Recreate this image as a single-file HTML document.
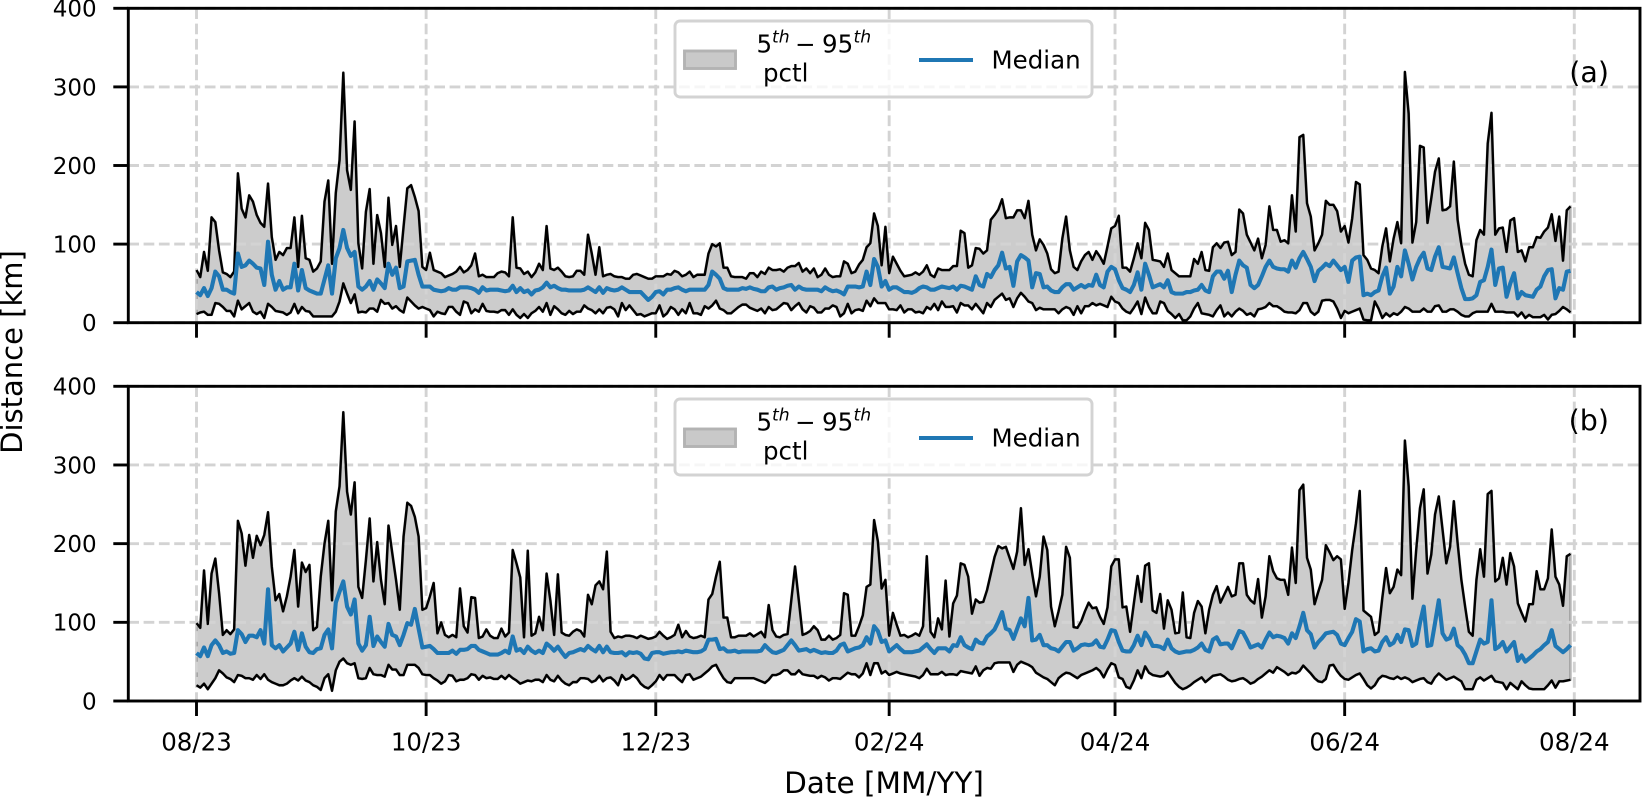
<!DOCTYPE html>
<html lang="en">
<head>
<meta charset="utf-8">
<title>Distance percentiles over time</title>
<style>
  html,body{margin:0;padding:0;background:#fff;}
  body{width:1642px;height:797px;overflow:hidden;}
  svg{display:block;}
  text{font-family:"DejaVu Sans","Liberation Sans",sans-serif;fill:#000;}
</style>
</head>
<body>
<svg id="chart" xmlns="http://www.w3.org/2000/svg" width="1642" height="797" viewBox="0 0 1642 797">
  <text transform="translate(22,352) rotate(-90)" text-anchor="middle" font-size="29">Distance [km]</text>
  <text x="884" y="793" text-anchor="middle" font-size="29.5">Date [MM/YY]</text>
</svg>
<script>
const tickDays = [0, 61, 122, 184, 244, 305, 366];
const tickLabels = ['08/23', '10/23', '12/23', '02/24', '04/24', '06/24', '08/24'];
const yTicks = [0, 100, 200, 300, 400];

const upperA = [
67,58,90,66,134,128,92,64,62,58, 65,190,145,134,162,154,137,127,122,177,
109,80,90,86,95,95,134,71,136,82, 80,65,69,78,154,181,75,165,207,318,
194,169,256,101,69,141,170,75,137,114, 71,159,99,123,71,122,171,175,160,142, 71,
67,89,67,65,63,58,60,62,65,
71,64,67,73,88,59,61,58,58,58, 63,65,64,59,134,70,69,62,65,58,
64,75,67,123,69,67,70,65,59,58, 59,66,66,61,112,88,61,96,59,61,
62,59,58,58,56,56,61,62,60,58,56,56,
59,59,59,62,61,66,64,59,
61,65,58,61,61,61,88,100,97,101, 70,70,59,58,58,58,56,63,63,58,
65,62,70,67,67,68,65,70,72,72, 76,65,69,63,69,58,61,69,61,58,
59,59,78,75,63,65,74,80,96,101, 139,123,73,122,
63,84,75,66,59,60,
61,64,61,65,73,61,58,69,67,67, 67,72,72,117,114,70,73,95,94,88,
92,131,137,144,157,133,134,134,143,143, 133,155,112,92,106,99,88,68,63,65,
107,135,92,71,67,78,86,90,80,91, 84,75,97,120,
123,136,70,70,65,82,
101,82,127,118,80,79,78,71,88,67, 63,59,59,59,59,81,75,90,67,66,
96,101,95,102,103,86,90,144,139,112, 102,92,107,82,99,148,118,118,103,105,
101,162,116,236,239,152,135,92,101,112, 155,150,150,142,116,
123,102,133,179,176,
86,80,69,67,63,97,120,78,107,128, 101,319,266,102,128,225,223,127,158,192,
209,143,144,148,205,131,99,75,61,59, 105,118,112,228,267,112,120,121,90,130,
133,90,92,78,96,96,109,108,116,121, 138,104,135,79,143,148
];

const medianA = [
39,35,44,34,44,65,59,42,42,39, 37,88,71,73,79,75,70,69,48,103,
61,42,53,42,45,45,75,41,67,44, 41,39,37,37,55,73,37,82,95,118,
95,85,90,46,42,46,53,42,55,50, 44,75,61,70,44,46,78,79,80,61, 46,
46,46,42,41,40,41,44,42,42,
45,45,45,44,42,38,45,41,42,42, 42,41,40,41,47,39,44,39,41,36,
41,42,45,51,45,47,44,42,42,41, 41,41,41,42,45,42,39,45,38,44,
42,41,42,45,42,39,39,39,39,34,29,33,
39,40,36,42,42,44,45,42,
40,42,42,42,42,42,48,65,61,56, 44,42,42,42,42,44,43,45,43,42,
40,40,45,46,42,44,45,47,48,42, 46,43,42,42,42,42,40,45,42,40,
41,39,36,46,46,46,45,46,65,48, 81,71,46,53,
42,45,45,42,39,39,
38,40,44,46,45,42,42,44,46,45, 44,46,42,47,46,44,42,59,48,46,
62,58,67,73,89,69,71,47,78,86, 83,79,45,63,62,45,46,41,39,39,
45,49,49,42,45,48,45,48,47,61, 48,45,65,71,
68,54,44,42,39,48,
64,42,75,61,45,47,49,45,54,39, 37,37,37,39,39,41,42,48,41,39,
59,65,65,56,66,39,61,79,73,70, 48,44,48,59,71,79,71,69,68,68,
65,79,70,82,90,81,71,53,66,70, 75,72,79,73,67,
71,52,79,83,84,
35,37,35,39,41,59,70,37,46,71, 59,92,75,55,71,82,89,69,67,84,
96,71,70,69,83,63,44,30,30,31, 35,52,54,71,93,48,69,70,33,50,
63,31,39,35,34,33,42,46,59,67, 68,31,44,42,65,66
];

const lowerA = [
11,13,14,10,10,25,24,20,15,15, 8,28,17,21,25,14,11,14,6,24,
20,15,14,13,10,13,24,12,20,15, 14,8,8,8,8,8,8,14,27,50,
37,25,36,13,14,13,18,18,14,29, 24,25,18,21,16,13,32,27,22,18, 20,
18,16,8,14,12,11,20,20,14,
10,27,25,12,17,14,24,15,14,14, 13,16,16,10,17,10,6,11,6,12,
15,20,14,25,10,21,17,12,10,15, 11,14,14,22,18,16,12,17,12,19,
20,17,8,25,16,22,16,10,11,8,10,12,
12,22,8,12,20,17,10,17,
12,25,12,12,10,21,18,22,28,18, 16,12,12,16,20,23,23,19,17,15,
18,12,20,16,17,21,25,24,16,21, 25,17,13,21,19,13,13,18,18,22,
20,8,12,24,12,16,17,15,28,21, 31,25,25,25,
17,17,16,22,13,17,
17,13,14,12,20,17,24,16,27,20, 20,21,13,25,22,22,17,24,18,12,
25,20,29,33,37,29,31,20,31,38, 33,27,25,16,19,17,17,17,17,12,
17,20,18,10,21,12,21,21,25,22, 24,22,20,33,
27,25,18,14,12,19,
27,11,32,20,12,12,27,25,15,11, 6,11,3,3,8,18,25,12,11,10,
8,16,22,8,13,8,14,18,15,10, 12,8,17,18,20,25,21,21,18,14,
13,13,12,16,25,25,14,10,14,28, 29,29,27,18,6,
15,12,14,16,18,
4,3,3,27,18,6,12,8,12,10, 14,20,18,14,14,14,18,14,14,21,
22,14,14,17,17,14,10,8,8,12, 14,14,14,14,24,14,14,14,13,13,
13,8,13,6,10,7,7,7,10,4, 10,11,15,20,17,13
];

const upperB = [
99,93,166,98,162,181,137,84,90,85, 91,229,213,172,211,182,210,198,211,240,
171,128,136,114,133,158,192,120,176,164, 173,90,94,158,200,229,128,241,273,367,
266,237,278,145,131,179,232,152,202,154, 123,223,188,154,116,209,252,248,234,209, 116,
118,133,150,86,100,84,81,84,81,
143,95,87,132,131,80,82,91,83,80, 80,92,82,87,192,175,157,81,191,83,
86,107,90,162,128,84,161,87,84,83, 88,91,89,82,135,123,147,152,142,190,
88,80,82,81,83,83,82,80,83,81,79,80,
82,88,83,79,81,84,97,81,
89,82,80,81,83,81,129,136,158,177, 106,106,81,81,83,83,83,86,82,85,
88,81,122,90,82,81,84,85,128,171, 128,84,86,89,95,90,78,78,83,78,
80,84,137,135,83,83,95,109,145,148, 230,203,143,154,
83,112,97,83,84,81,
83,86,83,95,184,88,81,105,91,153, 82,124,134,175,173,158,111,129,125,126,
141,162,183,197,194,196,182,168,190,245, 173,193,162,133,158,209,192,120,95,114,
135,196,182,94,93,101,114,125,118,119, 107,98,119,171,
180,180,119,120,88,124,
159,126,172,175,115,112,136,92,128,116, 86,87,138,81,80,112,127,120,86,116,
135,146,125,135,145,133,135,175,175,135, 128,124,155,106,133,184,165,156,154,154,
135,195,150,268,275,182,167,123,139,154, 198,189,179,184,180,
117,150,192,226,267,
115,111,107,84,88,131,169,137,145,167, 160,331,273,130,192,245,269,162,186,237,
260,218,175,196,254,201,154,120,88,83, 154,193,158,263,267,152,156,182,148,188,
171,124,112,101,123,123,165,142,142,156, 218,158,148,121,184,187
];

const medianB = [
61,57,68,57,71,77,71,61,63,60, 61,90,85,75,83,83,81,90,73,142,
71,67,71,63,68,73,88,65,86,69, 62,61,66,67,84,91,67,125,139,152,
120,110,129,73,64,71,107,70,82,75, 69,98,84,82,71,84,99,97,117,92, 68,
69,70,66,61,61,61,61,64,60,
65,65,66,70,70,65,63,61,59,59, 59,61,64,61,82,64,66,61,69,64,
61,64,61,73,69,64,69,62,56,61, 62,64,66,64,70,66,63,70,62,69,
62,61,61,62,58,62,61,62,60,54,53,61,
62,62,60,61,62,62,63,62,
64,63,62,62,63,66,78,78,79,66, 67,63,63,64,62,63,63,63,63,63,
64,71,66,62,61,63,65,71,77,71, 64,65,66,63,65,63,61,62,61,61,
64,71,73,63,65,67,68,71,81,73, 95,89,75,77,
63,67,71,66,62,62,
62,63,64,68,72,66,61,67,67,67, 63,71,70,81,71,68,66,78,74,73,
82,86,91,101,113,92,90,79,92,105, 95,131,77,78,84,71,71,67,66,63,
69,75,75,64,67,71,72,71,72,77, 69,68,78,90,
89,75,64,63,63,71,
83,71,87,80,70,70,69,66,78,67, 63,61,62,63,63,65,68,73,65,63,
78,81,72,73,73,67,78,89,87,78, 68,70,72,68,78,87,81,83,82,80,
73,86,80,95,112,90,85,68,75,80, 86,87,88,84,73,
71,80,88,104,101,
63,66,67,63,64,75,81,71,74,84, 75,91,90,70,73,99,120,70,71,99,
128,86,78,80,92,71,67,59,48,48, 63,78,73,75,128,66,69,75,63,69,
75,51,58,50,54,58,63,66,71,75, 90,70,66,62,66,71
];

const lowerB = [
20,17,22,15,22,29,39,35,30,28, 24,33,32,29,29,27,33,28,34,27,
24,22,20,20,22,26,29,26,31,26, 24,20,18,14,29,34,13,39,50,54,
48,46,48,29,28,29,42,34,33,33, 31,46,40,40,33,33,46,46,46,42, 34,
33,33,29,26,22,25,33,32,25,
27,27,29,34,33,27,32,29,30,28, 28,32,28,33,29,26,22,24,26,25,
27,27,24,33,27,25,32,26,22,20, 24,24,29,29,28,24,26,32,25,29,
30,26,20,33,27,29,33,29,22,18,16,20,
25,33,27,33,33,33,28,24,
33,34,27,29,31,35,39,44,46,37, 29,24,23,29,29,29,29,29,29,27,
25,23,27,33,33,35,39,39,34,34, 39,34,33,32,32,29,32,30,26,29,
29,28,32,36,34,34,30,35,48,33, 48,48,35,38,
33,35,37,35,34,33,
32,31,29,33,41,34,34,34,37,33, 34,34,33,38,37,36,35,44,32,39,
42,41,48,49,49,49,49,37,46,50, 48,46,43,36,33,30,28,24,20,29,
33,36,35,32,29,33,35,37,39,42, 38,30,40,48,
46,30,28,18,16,26,
39,29,44,36,33,32,31,32,37,30, 23,18,15,17,20,24,27,30,24,28,
32,33,34,31,27,25,26,28,29,26, 22,24,28,31,35,39,36,43,40,37,
33,36,35,38,45,40,35,29,25,24, 28,45,46,38,32,
28,27,30,33,35,
28,20,16,20,28,32,31,29,28,31, 28,30,28,24,26,28,29,24,22,30,
35,31,27,29,31,28,25,15,15,15, 27,30,26,29,32,25,24,23,15,23,
19,15,25,20,16,15,15,15,15,20, 26,17,25,25,26,27
];

const SVG_NS = 'http://www.w3.org/2000/svg';
const svg = document.getElementById('chart');
const LEFT = 128.3, RIGHT = 1640, STROKE = 2.9;
const xScale = function (day) { return 196.5 + (1574.3 - 196.5) * day / 366; };

function make(tag, attrs, parent, txt) {
  const el = document.createElementNS(SVG_NS, tag);
  for (const k in attrs) el.setAttribute(k, attrs[k]);
  if (txt !== undefined) el.textContent = txt;
  parent.appendChild(el);
  return el;
}

function drawPanel(key, top, bottom, upper, median, lower, tag, tagY, tickText) {
  const yScale = function (km) { return bottom - (bottom - top) * km / 400; };
  const g = make('g', {}, svg);
  
  

  const upPts = upper.map(function (v, i) { return xScale(i).toFixed(2) + ',' + yScale(v).toFixed(2); });
  const loPts = lower.map(function (v, i) { return xScale(i).toFixed(2) + ',' + yScale(v).toFixed(2); });
  const medPts = median.map(function (v, i) { return xScale(i).toFixed(2) + ',' + yScale(v).toFixed(2); });

  const band = make('polygon', { points: upPts.concat(loPts.slice().reverse()).join(' '), fill: 'rgba(0,0,0,0.2)', stroke: 'rgba(0,0,0,0.2)', 'stroke-width': 2.9, 'stroke-linejoin': 'round' }, g);
  
  

  yTicks.forEach(function (t) {
    const gl = make('line', { x1: LEFT, x2: RIGHT, y1: yScale(t), y2: yScale(t), stroke: '#d3d3d3', 'stroke-width': 2.9, 'stroke-dasharray': '10.7,4.6' }, g);
    
    
  });
  tickDays.forEach(function (d) {
    const gl = make('line', { x1: xScale(d), x2: xScale(d), y1: top, y2: bottom, stroke: '#d3d3d3', 'stroke-width': 2.9, 'stroke-dasharray': '10.7,4.6' }, g);
    
    
  });

  const up = make('polyline', { points: upPts.join(' '), fill: 'none', stroke: '#000', 'stroke-width': 2.4, 'stroke-linejoin': 'round' }, g);
  
  
  const lo = make('polyline', { points: loPts.join(' '), fill: 'none', stroke: '#000', 'stroke-width': 2.4, 'stroke-linejoin': 'round' }, g);
  
  
  const med = make('polyline', { points: medPts.join(' '), fill: 'none', stroke: '#1f77b4', 'stroke-width': 4.1, 'stroke-linejoin': 'round' }, g);
  
  

  const frame = make('rect', { x: LEFT, y: top, width: RIGHT - LEFT, height: bottom - top, fill: 'none', stroke: '#000', 'stroke-width': STROKE }, g);
  
  

  yTicks.forEach(function (t) {
    const tk = make('line', { x1: LEFT - 15, x2: LEFT, y1: yScale(t), y2: yScale(t), stroke: '#000', 'stroke-width': STROKE }, g);
    
    
    const lb = make('text', { x: 96.7, y: yScale(t) + 8.4, 'text-anchor': 'end', 'font-size': 23 }, g, String(t));
    
    
  });
  tickDays.forEach(function (d, i) {
    const tk = make('line', { x1: xScale(d), x2: xScale(d), y1: bottom, y2: bottom + 15, stroke: '#000', 'stroke-width': STROKE }, g);
    
    
    if (tickText) {
      const lb = make('text', { x: xScale(d), y: 750.7, 'text-anchor': 'middle', 'font-size': 24.5 }, g, tickLabels[i]);
      
      
    }
  });

  const pl = make('text', { x: 1609, y: tagY, 'text-anchor': 'end', 'font-size': 28.5 }, g, tag);
  
  

  const dy = top - 8.3;
  const lg = make('g', { transform: 'translate(0,' + dy + ')' }, g);
  
  
  make('rect', { x: 675, y: 21, width: 417, height: 76, rx: 5, ry: 5, fill: 'rgba(255,255,255,0.8)', stroke: '#d3d3d3', 'stroke-width': 2.9 }, lg);
  const sw = make('rect', { x: 684.5, y: 51, width: 51, height: 17.5, fill: '#c9c9c9', stroke: '#b3b3b3', 'stroke-width': 2.9 }, lg);
  
  
  const l1 = make('text', { x: 756.5, y: 52.7, 'font-size': 24.5 }, lg, '5');
  
  
  make('text', { x: 772, y: 42.5, 'font-size': 17.2, 'font-style': 'italic' }, lg, 'th');
  make('text', { x: 795, y: 52.7, 'font-size': 24.5 }, lg, '\u2212');
  make('text', { x: 822, y: 52.7, 'font-size': 24.5 }, lg, '95');
  make('text', { x: 853.5, y: 42.5, 'font-size': 17.2, 'font-style': 'italic' }, lg, 'th');
  make('text', { x: 763, y: 81.7, 'font-size': 24.5 }, lg, 'pctl');
  const sl = make('line', { x1: 919, x2: 973, y1: 60, y2: 60, stroke: '#1f77b4', 'stroke-width': 4.1 }, lg);
  
  
  const l2 = make('text', { x: 991.5, y: 68.7, 'font-size': 24.5 }, lg, 'Median');
  
  
}

drawPanel('a', 8.3, 322.7, upperA, medianA, lowerA, '(a)', 82, false);
drawPanel('b', 386.3, 701, upperB, medianB, lowerB, '(b)', 430, true);
</script>
</body>
</html>
